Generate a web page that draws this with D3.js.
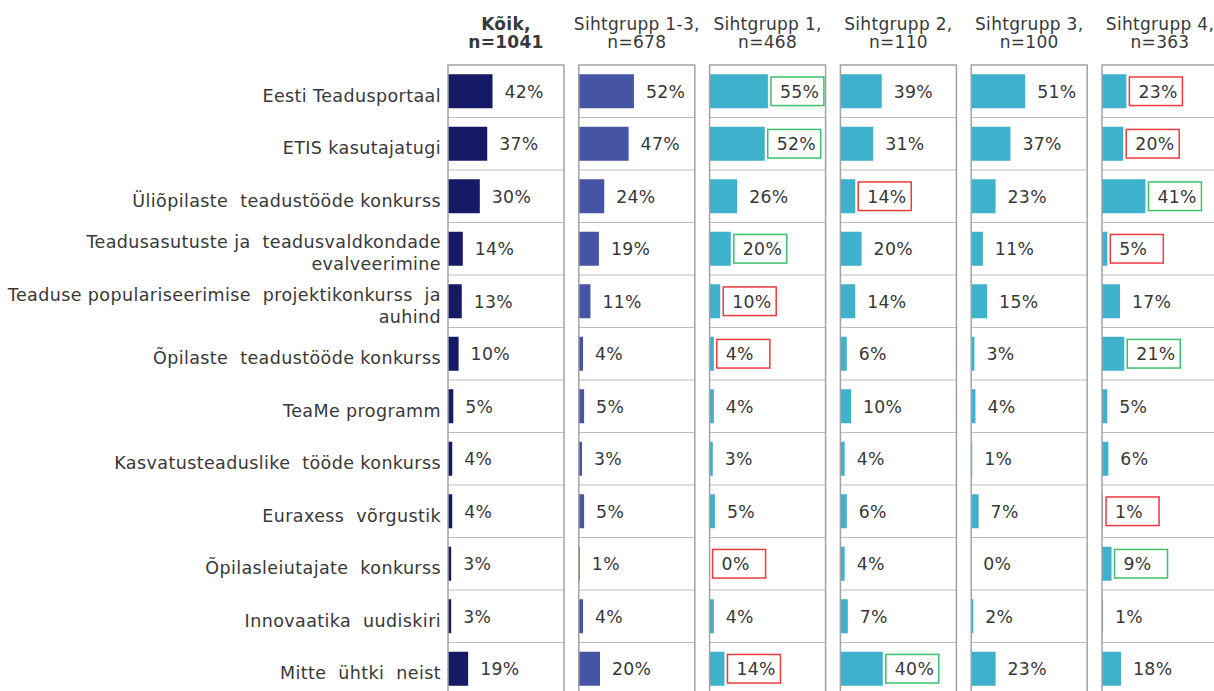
<!DOCTYPE html>
<html><head><meta charset="utf-8">
<script src="https://cdn.jsdelivr.net/npm/d3@7/dist/d3.min.js"></script>
<style>
html,body{margin:0;padding:0;background:#fff;overflow:hidden}
svg text{font-family:"DejaVu Sans",Verdana,sans-serif;fill:#383838;white-space:pre}
</style></head>
<body>
<svg id="c" width="1214" height="691"></svg>
<script>
const categories = [
  ["Eesti Teadusportaal"],
  ["ETIS kasutajatugi"],
  ["Üliõpilaste  teadustööde konkurss"],
  ["Teadusasutuste ja  teadusvaldkondade", "evalveerimine"],
  ["Teaduse populariseerimise  projektikonkurss  ja", "auhind"],
  ["Õpilaste  teadustööde konkurss"],
  ["TeaMe programm"],
  ["Kasvatusteaduslike  tööde konkurss"],
  ["Euraxess  võrgustik"],
  ["Õpilasleiutajate  konkurss"],
  ["Innovaatika  uudiskiri"],
  ["Mitte  ühtki  neist"]
];
const groups = [
  ["Kõik,", "n=1041"],
  ["Sihtgrupp 1-3,", "n=678"],
  ["Sihtgrupp 1,", "n=468"],
  ["Sihtgrupp 2,", "n=110"],
  ["Sihtgrupp 3,", "n=100"],
  ["Sihtgrupp 4,", "n=363"]
];
const koik      = [42, 37, 30, 14, 13, 10, 5, 4, 4, 3, 3, 19];
const sg13      = [52, 47, 24, 19, 11, 4, 5, 3, 5, 1, 4, 20];
const sg1       = [55, 52, 26, 20, 10, 4, 4, 3, 5, 0, 4, 14];
const sg2       = [39, 31, 14, 20, 14, 6, 10, 4, 6, 4, 7, 40];
const sg3       = [51, 37, 23, 11, 15, 3, 4, 1, 7, 0, 2, 23];
const sg4       = [23, 20, 41, 5, 17, 21, 5, 6, 1, 9, 1, 18];
// highlight flags: "g" = notably higher, "r" = notably lower
const hl1 = ["g","g","","g","r","r","","","","r","","r"];
const hl2 = ["","","r","","","","","","","","","g"];
const hl4 = ["r","r","g","r","","g","","","r","g","",""];

const series = [koik, sg13, sg1, sg2, sg3, sg4];
const highlights = [null, null, hl1, hl2, null, hl4];
const barColors = ["#161a66", "#4654a6", "#3eb1cc", "#3eb1cc", "#3eb1cc", "#3eb1cc"];

const svg = d3.select("#c");
const plotTop = 65, rowH = 52.5, panelW = 116;
const y = d3.scaleBand().domain(d3.range(categories.length))
  .range([plotTop, plotTop + rowH * categories.length]).paddingInner(0).paddingOuter(0);
const px = d3.scaleBand().domain(d3.range(groups.length)).range([448, 448 + 130.8 * groups.length]).paddingInner(0);
const x = d3.scaleLinear().domain([0, 100]).range([0, 106]);

// category labels
categories.forEach((lines, i) => {
  const cy = y(i) + rowH / 2;
  const t = svg.append("text").attr("text-anchor", "end").attr("font-size", 17.5)
    .attr("letter-spacing", 0.4);
  const off = lines.length === 1 ? [10.5] : [-0.7, 21.3];
  lines.forEach((l, k) => t.append("tspan").attr("x", 441).attr("y", cy + off[k]).text(l));
});

groups.forEach((g, gi) => {
  const x0 = px(gi);
  const p = svg.append("g");
  const cx = x0 + panelW / 2;
  g.forEach((l, k) => {
    p.append("text").attr("x", cx).attr("y", 30 + k * 18).attr("text-anchor", "middle")
      .attr("font-size", 17).attr("letter-spacing", 0.3)
      .attr("font-weight", gi === 0 ? "bold" : "normal").text(l);
  });
  p.selectAll("line.sep").data(d3.range(1, categories.length)).join("line")
    .attr("x1", x0).attr("x2", x0 + panelW)
    .attr("y1", d => y(d)).attr("y2", d => y(d))
    .attr("stroke", "#bdbdbd").attr("stroke-width", 1.2);
  const vals = series[gi];
  p.selectAll("rect.bar").data(vals).join("rect")
    .attr("x", x0).attr("y", (d, i) => y(i) + (rowH - 34) / 2)
    .attr("width", d => x(d)).attr("height", 34)
    .attr("fill", barColors[gi]);
  const hl = highlights[gi];
  if (hl) {
    p.selectAll("rect.box").data(vals.map((v, i) => ({v, i, h: hl[i]})).filter(d => d.h)).join("rect")
      .attr("x", d => x0 + x(d.v) + 12 - 9).attr("y", d => y(d.i) + rowH / 2 - 14.3)
      .attr("width", 53).attr("height", 28.6)
      .attr("fill", "none").attr("stroke", d => d.h === "g" ? "#3cc06a" : "#ee3b3b").attr("stroke-width", 1.5);
  }
  p.selectAll("text.val").data(vals).join("text")
    .attr("x", d => x0 + x(d) + 12).attr("y", (d, i) => y(i) + rowH / 2 + 6.5)
    .attr("font-size", 17.3).attr("letter-spacing", 0.3).text(d => d + "%");
  p.append("rect").attr("x", x0).attr("y", plotTop).attr("width", panelW).attr("height", rowH * categories.length)
    .attr("fill", "none").attr("stroke", "#a3a3a3").attr("stroke-width", 1.5);
});
</script>
</body></html>
